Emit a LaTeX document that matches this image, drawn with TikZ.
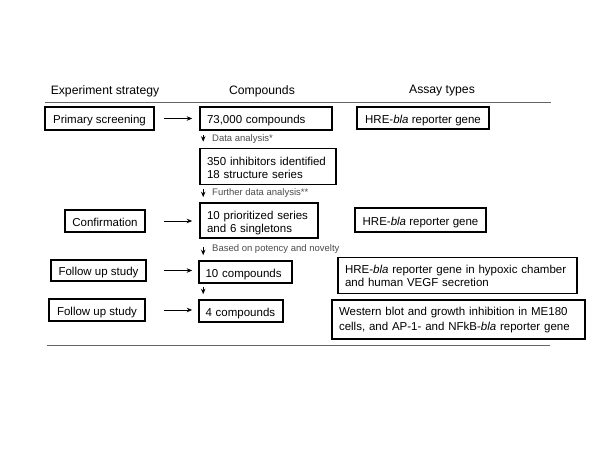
\documentclass[tikz,border=0pt]{standalone}
\usepackage{fontspec}
\setmainfont{Liberation Sans}
\usetikzlibrary{arrows.meta}
\tikzset{
  box/.style={draw=black, line width=1.6pt, rectangle, inner sep=0pt, font=\fontsize{11.5}{13.4}\selectfont, align=center, text height=10pt, text depth=0pt},
  lbox/.style={box, align=left},
  hdr/.style={font=\fontsize{12.2}{14}\selectfont, inner sep=0pt},
  note/.style={font=\fontsize{9.5}{11}\selectfont, text=black!70, inner sep=0pt, anchor=west},
  harr/.style={-{Stealth[length=5.5pt,width=4.5pt]}, line width=0.8pt},
  varr/.style={-{Stealth[length=5.5pt,width=4.5pt]}, line width=0.8pt},
  rule/.style={draw=black!60, line width=0.9pt}
}
\begin{document}
\begin{tikzpicture}[x=1pt,y=-1pt]
\useasboundingbox[fill=white] (0,0) rectangle (600,450);
% headers
\node[hdr] (h1) at (105,91) {Experiment strategy};
\node[hdr] (h2) at (262,91) {Compounds};
\node[hdr] (h3) at (442,91) {Assay types};
\coordinate (t1) at (45,102);
\coordinate (t2) at (551,102);
\draw[rule] (t1) -- (t2);
\coordinate (b1) at (47,345);
\coordinate (b2) at (550,345);
\draw[rule] (b1) -- (b2);
% left column
\node[box, minimum width=109pt, minimum height=23pt] (ps) at (99.5,118.5) {Primary screening};
\node[box, minimum width=80pt, minimum height=22pt] (cf) at (105,221) {Confirmation};
\node[box, minimum width=95pt, minimum height=21pt] (f1) at (98.5,270.5) {Follow up study};
\node[box, minimum width=96pt, minimum height=22pt] (f2) at (97,310) {Follow up study};
% compounds column
\node[lbox, minimum width=132pt, minimum height=23pt, text width=118pt] (c1) at (266,118.5) {73,000 compounds};
\node[lbox, minimum width=136pt, minimum height=36pt, text width=122pt, text depth=12pt] (c2) at (268,166.5) {350 inhibitors identified\\18 structure series};
\node[lbox, minimum width=118pt, minimum height=35pt, text width=104pt, text depth=12pt] (c3) at (259,220.5) {10 prioritized series\\and 6 singletons};
\node[lbox, minimum width=93pt, minimum height=22pt, text width=80pt] (c4) at (245.5,272) {10 compounds};
\node[lbox, minimum width=84pt, minimum height=22pt, text width=71pt] (c5) at (241,311) {4 compounds};
% assay column
\node[box, minimum width=132pt, minimum height=22pt] (a1) at (423,118) {HRE-\textit{bla} reporter gene};
\node[box, minimum width=131pt, minimum height=24pt] (a2) at (420.5,220) {HRE-\textit{bla} reporter gene};
\node[lbox, minimum width=239pt, minimum height=36pt, text width=225pt, text depth=14.4pt] (a3) at (457.5,275.5) {HRE-\textit{bla} reporter gene in hypoxic chamber\\and human VEGF secretion};
\node[lbox, minimum width=253pt, minimum height=39pt, text width=239pt, text depth=19pt, font=\fontsize{11.5}{15}\selectfont] (a4) at (458.5,319.5) {Western blot and growth inhibition in ME180\\cells, and AP-1- and NFkB-\textit{bla} reporter gene};
% horizontal arrows
\draw[harr, shorten <=9pt, shorten >=7pt] (ps.east) -- (ps.east -| c1.west);
\draw[harr, shorten <=18pt, shorten >=7pt] (cf.east) -- (cf.east -| c3.west);
\draw[harr, shorten <=17pt, shorten >=6pt] (f1.east) -- (f1.east -| c4.west);
\draw[harr, shorten <=18pt, shorten >=6pt] (f2.east) -- (f2.east -| c5.west);
% vertical arrows
\draw[varr, shorten <=4pt, shorten >=6pt] ([xshift=4pt]c1.south west) -- ([xshift=4pt]c2.north west);
\node[note] (n1) at (212,139) {Data analysis*};
\draw[varr, shorten <=4pt, shorten >=5pt] ([xshift=4pt]c2.south west) -- ([xshift=4pt]c3.north west);
\node[note] (n2) at (212,193) {Further data analysis**};
\draw[varr, shorten <=8pt, shorten >=5pt] ([xshift=4pt]c3.south west) -- ([xshift=5pt]c4.north west);
\node[note] (n3) at (212,249) {Based on potency and novelty};
\draw[varr, shorten <=3pt, shorten >=5pt] ([xshift=5pt]c4.south west) -- ([xshift=5pt]c5.north west);
\end{tikzpicture}
\end{document}
